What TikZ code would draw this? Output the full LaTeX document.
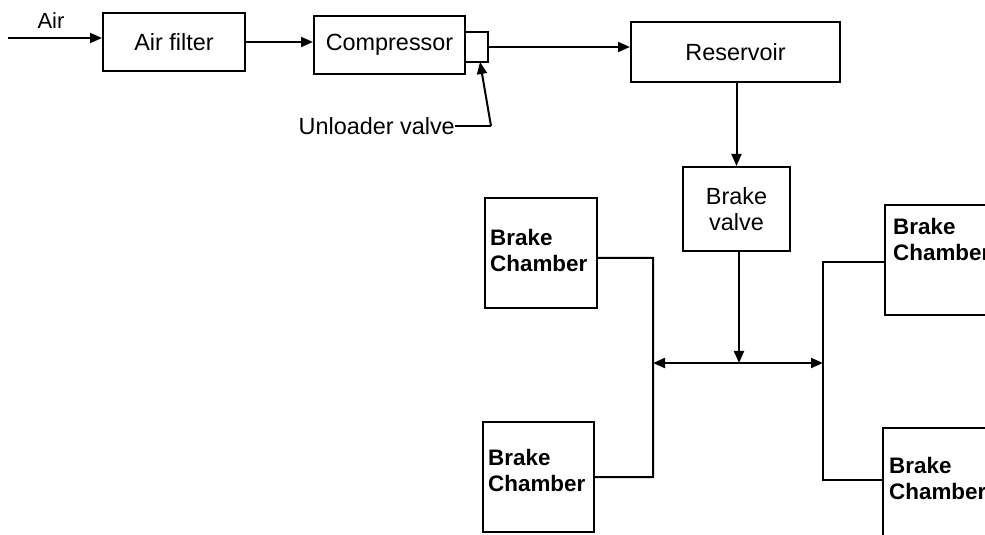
\documentclass[tikz,border=0pt]{standalone}
\usepackage{fontspec}
\setmainfont{Liberation Sans}
\usetikzlibrary{arrows.meta}
\begin{document}
\begin{tikzpicture}[x=1bp,y=-1bp,
  every node/.style={font=\fontsize{23.5}{26}\selectfont},
  blk/.style={draw,line width=2bp,inner sep=0pt},
  wire/.style={line width=2bp},
  arr/.style={wire,-{Triangle[length=12bp,width=10bp]}},
  darr/.style={wire,{Triangle[length=12bp,width=10bp]}-{Triangle[length=12bp,width=10bp]}},
  lbl/.style={inner sep=0pt},
  bc/.style={inner sep=0pt,align=left,font=\fontsize{22.5}{26}\selectfont\bfseries,anchor=north west}]
\useasboundingbox (0,0) rectangle (985,535);
\clip (0,0) rectangle (985,535);
% top row
\node[blk,minimum width=142bp,minimum height=58bp] (af) at (174,42) {Air filter};
\node[blk,minimum width=151bp,minimum height=58bp] (comp) at (389.5,45) {Compressor};
\node[blk,minimum width=23bp,minimum height=30bp] (uv) at (476.5,47) {};
\node[blk,minimum width=209bp,minimum height=60bp] (res) at (735.5,52) {Reservoir};
\node[blk,minimum width=107bp,minimum height=84bp,align=center] (bv) at (736.5,209) {Brake\\valve};
\node[lbl,font=\fontsize{22}{26}\selectfont] (air) at (51,21) {Air};
\coordinate (airin) at (8,38);
\draw[arr] (airin) -- (airin -| af.west);
\draw[arr] (af.east) -- (af.east -| comp.west);
\draw[arr] (uv.east) -- (uv.east -| res.west);
\draw[arr] (res.south -| bv.north) -- (bv.north);
% unloader valve
\node[lbl,anchor=east] (ul) at (455,126) {Unloader valve};
\coordinate (ulc) at (491,126);
\coordinate (ultip) at (480,62);
\draw[wire] (ul.east) -- (ulc);
\draw[arr] (ulc) -- (ultip);
% brake chambers
\node[blk,minimum width=112bp,minimum height=110bp] (lt) at (541,253) {};
\node[blk,minimum width=111bp,minimum height=110bp] (lb) at (538.5,477) {};
\node[blk,minimum width=130bp,minimum height=110bp] (rt) at (950,260) {};
\node[blk,minimum width=130bp,minimum height=130bp] (rb) at (948,493) {};
\node[bc] (ltt) at (490,229) {Brake\\Chamber};
\node[bc] (lbt) at (488,449) {Brake\\Chamber};
\node[bc] (rtt) at (893,218) {Brake\\Chamber};
\node[bc] (rbt) at (889,457) {Brake\\Chamber};
% distribution
\coordinate (lbus) at (653,363);
\coordinate (rbus) at (823,363);
\coordinate (jn) at (739,363);
\draw[arr] (bv.south -| jn) -- (jn);
\draw[darr] (lbus) -- (rbus);
\coordinate (ltc) at (653,258);
\coordinate (lbc) at (653,477);
\draw[wire] ([yshift=-5bp]lt.east) -- (ltc) -- (lbc) -- (lb.east);
\coordinate (rtc) at (823,262);
\coordinate (rbc) at (823,480);
\draw[wire] (rtc -| rt.west) -- (rtc) -- (rbc) -- (rbc -| rb.west);
\end{tikzpicture}
\end{document}
